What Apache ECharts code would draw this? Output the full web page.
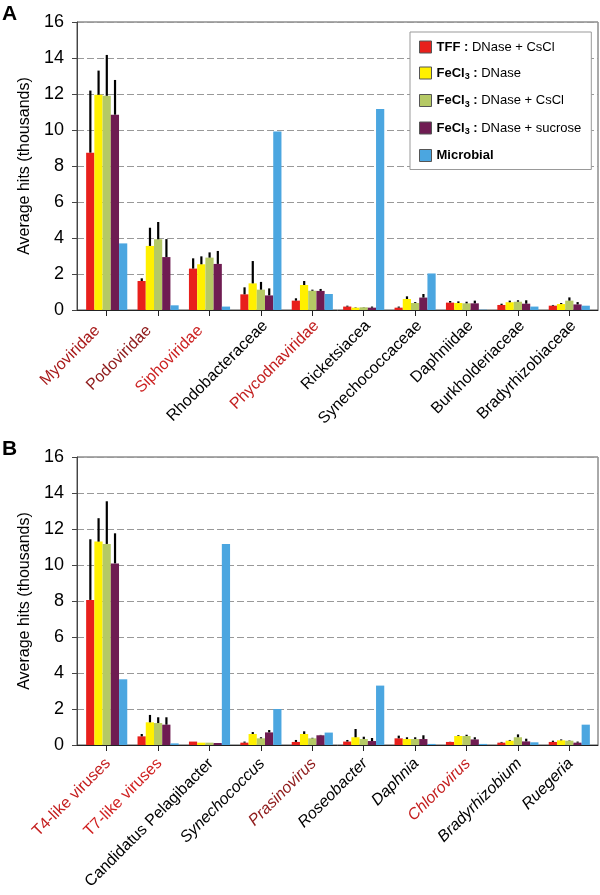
<!DOCTYPE html>
<html>
<head>
<meta charset="utf-8">
<script src="https://cdn.jsdelivr.net/npm/echarts@6/dist/echarts.min.js"></script>
<style>
html,body{margin:0;padding:0;background:#fff;}
#chart{width:600px;height:895px;}
</style>
</head>
<body>
<div id="chart"></div>
<script>
// ---------- data ----------
var seriesNames = ['TFF : DNase + CsCl', 'FeCl3 : DNase', 'FeCl3 : DNase + CsCl', 'FeCl3 : DNase + sucrose', 'Microbial'];
var yTicks = [0, 2, 4, 6, 8, 10, 12, 14, 16];

var catsA = ['Myoviridae','Podoviridae','Siphoviridae','Rhodobacteraceae','Phycodnaviridae','Ricketsiacea','Synechococcaceae','Daphniidae','Burkholderiaceae','Bradyrhizobiaceae'];
var tffA      = [8.74, 1.61, 2.30, 0.87, 0.52, 0.19, 0.13, 0.41, 0.28, 0.24];
var tffErrA   = [12.19, 1.76, 2.87, 1.26, 0.65, 0.24, 0.19, 0.50, 0.35, 0.28];
var dnaseA    = [11.96, 3.56, 2.54, 1.48, 1.39, 0.13, 0.61, 0.39, 0.43, 0.33];
var dnaseErrA = [13.30, 4.57, 2.98, 2.72, 1.61, 0.15, 0.76, 0.48, 0.52, 0.39];
var csclA     = [11.90, 3.93, 2.91, 1.13, 1.07, 0.15, 0.39, 0.37, 0.46, 0.52];
var csclErrA  = [14.17, 4.89, 3.20, 1.56, 1.13, 0.16, 0.44, 0.46, 0.54, 0.70];
var sucA      = [10.85, 2.94, 2.56, 0.81, 1.06, 0.13, 0.69, 0.37, 0.35, 0.31];
var sucErrA   = [12.78, 3.94, 3.28, 1.20, 1.17, 0.19, 0.89, 0.52, 0.54, 0.44];
var microA    = [3.70, 0.26, 0.19, 9.92, 0.89, 11.17, 2.03, 0.02, 0.19, 0.24];

var catsB = ['T4-like viruses','T7-like viruses','Candidatus Pelagibacter','Synechococcus','Prasinovirus','Roseobacter','Daphnia','Chlorovirus','Bradyrhizobium','Ruegeria'];
var tffB      = [8.06, 0.48, 0.19, 0.13, 0.17, 0.19, 0.37, 0.17, 0.13, 0.17];
var tffErrB   = [11.43, 0.61, 0.19, 0.19, 0.28, 0.28, 0.52, 0.18, 0.17, 0.24];
var dnaseB    = [11.30, 1.26, 0.13, 0.61, 0.61, 0.43, 0.33, 0.50, 0.24, 0.26];
var dnaseErrB = [12.60, 1.67, 0.13, 0.72, 0.76, 0.89, 0.43, 0.54, 0.28, 0.31];
var csclB     = [11.17, 1.22, 0.13, 0.37, 0.37, 0.33, 0.33, 0.50, 0.43, 0.24];
var csclErrB  = [13.54, 1.54, 0.13, 0.43, 0.40, 0.46, 0.43, 0.57, 0.59, 0.26];
var sucB      = [10.09, 1.13, 0.11, 0.70, 0.54, 0.22, 0.33, 0.31, 0.20, 0.13];
var sucErrB   = [11.76, 1.54, 0.11, 0.83, 0.56, 0.39, 0.54, 0.43, 0.35, 0.19];
var microB    = [3.65, 0.09, 11.17, 2.00, 0.69, 3.30, 0.06, 0.06, 0.15, 1.13];

// ---------- styles ----------
var FONT = '"Liberation Sans", Arial, Helvetica, sans-serif';
var colors = ['#e8201c', '#fff000', '#b5c965', '#6f1c52', '#4ba6e0'];
var labelColorA = ['#a81a1a','#8e1a1a','#cc2222','#000','#c21e1e','#000','#000','#000','#000','#000'];
var labelItalicA = [false,false,false,false,false,false,false,false,false,false];
var labelPadA = [[0,13,0,0],[0,13,0,0],[0,13,0,0],[12,0,0,0],[12,0,0,0],[12,0,0,0],[12,0,0,0],[12,0,0,0],[12,0,0,0],[12,0,0,0]];
var labelColorB = ['#c41e1e','#d02020','#000','#000','#8e1a1a','#000','#000','#c41e1e','#000','#000'];
var labelItalicB = [false,false,false,true,true,true,true,true,true,true];
var labelPadB = [[12,4,0,0],[12,4,0,0],[12,4,0,0],[12,4,0,0],[12,4,0,0],[12,4,0,0],[12,4,0,0],[12,4,0,0],[12,4,0,0],[12,4,0,0]];

function richFor(colorsArr, italicArr, padArr) {
  var r = {};
  for (var i = 0; i < colorsArr.length; i++) {
    r['c' + i] = { color: colorsArr[i], fontStyle: italicArr[i] ? 'italic' : 'normal', fontSize: 16,
      fontFamily: FONT, padding: padArr[i] };
  }
  return r;
}

var valsA = [tffA, dnaseA, csclA, sucA, microA];
var errsA = [tffErrA, dnaseErrA, csclErrA, sucErrA, null];
var valsB = [tffB, dnaseB, csclB, sucB, microB];
var errsB = [tffErrB, dnaseErrB, csclErrB, sucErrB, null];

var plotTop = [22, 457];
var plotH = 288;

var grids = [], xAxes = [], yAxes = [], series = [];
[0, 1].forEach(function (p) {
  var cats = p === 0 ? catsA : catsB;
  var lc = p === 0 ? labelColorA : labelColorB;
  var li = p === 0 ? labelItalicA : labelItalicB;
  var lp = p === 0 ? labelPadA : labelPadB;
  // frame grid
  grids.push({ left: 77, top: plotTop[p], width: 521, height: plotH, show: true, borderColor: '#555', borderWidth: 1,
    backgroundColor: 'transparent', containLabel: false, outerBoundsMode: 'none' });
  // bar grid
  grids.push({ left: 81, top: plotTop[p], width: 514, height: plotH, containLabel: false, outerBoundsMode: 'none' });
  var gf = p * 2, gb = p * 2 + 1;
  xAxes.push({ gridIndex: gf, type: 'value', min: 0, max: 1, axisLine: { show: true, lineStyle: { color: '#222', width: 1 } },
    axisTick: { show: false }, axisLabel: { show: false }, splitLine: { show: false } });
  yAxes.push({ gridIndex: gf, type: 'value', min: yTicks[0], max: yTicks[yTicks.length - 1], interval: 2,
    name: 'Average hits (thousands)', nameLocation: 'middle', nameGap: 37, nameRotate: 90,
    nameTextStyle: { fontSize: 16, color: '#000', fontFamily: FONT },
    axisLine: { show: true, lineStyle: { color: '#444', width: 1 } },
    axisTick: { show: true, length: 5, lineStyle: { color: '#444' } },
    axisLabel: { fontSize: 18, color: '#000', margin: 13, fontFamily: FONT },
    splitLine: { show: true, lineStyle: { color: '#999', type: [7, 3], width: 1 } } });
  xAxes.push({ gridIndex: gb, type: 'category', data: cats,
    axisLine: { show: false }, axisTick: { show: true, alignWithLabel: true, length: 6, lineStyle: { color: '#222' } },
    axisLabel: { rotate: 45, margin: 9, interval: 0, fontFamily: FONT, fontSize: 16,
      formatter: function (v, i) { return '{c' + i + '|' + v + '}'; }, rich: richFor(lc, li, lp) },
    splitLine: { show: false } });
  yAxes.push({ gridIndex: gb, type: 'value', min: yTicks[0], max: yTicks[yTicks.length - 1], interval: 2, show: false });

  var vals = p === 0 ? valsA : valsB;
  var errs = p === 0 ? errsA : errsB;
  for (var s = 0; s < 5; s++) {
    series.push({ name: seriesNames[s], type: 'bar', xAxisIndex: gb, yAxisIndex: gb,
      data: vals[s], barGap: '0%', barCategoryGap: '20%',
      itemStyle: { color: colors[s] }, emphasis: { disabled: true }, animation: false });
  }
  // error bars
  var errData = [];
  for (var s2 = 0; s2 < 4; s2++) {
    for (var c = 0; c < cats.length; c++) {
      errData.push([c, vals[s2][c], errs[s2][c], s2]);
    }
  }
  series.push({ type: 'custom', xAxisIndex: gb, yAxisIndex: gb, data: errData, animation: false, z: 5,
    encode: { x: 0, y: [1, 2] },
    renderItem: function (params, api) {
      var c = api.value(0), v = api.value(1), e = api.value(2), si = api.value(3);
      if (!(e > v)) return null;
      var base = api.coord([c, v]);
      var top = api.coord([c, e]);
      var cw = api.size([1, 0])[0];
      var bw = cw * 0.8 / 5;
      var x = base[0] + (si - 2) * bw;
      return { type: 'rect', shape: { x: x - 1, y: top[1], width: 2.2, height: base[1] - top[1] },
        style: { fill: '#000' } };
    } });
});

var legendRich = {
  b: { fontWeight: 'bold', fontSize: 13, fontFamily: FONT, color: '#000' },
  n: { fontSize: 13, fontFamily: FONT, color: '#000' },
  s: { fontWeight: 'bold', fontSize: 9, fontFamily: FONT, color: '#000', padding: [8, 0, 0, 0] }
};
var legendText = {
  'TFF : DNase + CsCl': '{b|TFF :}{n| DNase + CsCl}',
  'FeCl3 : DNase': '{b|FeCl}{s|3}{b| :}{n| DNase}',
  'FeCl3 : DNase + CsCl': '{b|FeCl}{s|3}{b| :}{n| DNase + CsCl}',
  'FeCl3 : DNase + sucrose': '{b|FeCl}{s|3}{b| :}{n| DNase + sucrose}',
  'Microbial': '{b|Microbial}'
};

var option = {
  animation: false,
  backgroundColor: '#fff',
  textStyle: { fontFamily: FONT },
  grid: grids,
  xAxis: xAxes,
  yAxis: yAxes,
  legend: {
    data: seriesNames, orient: 'vertical', left: 410, top: 32,
    padding: [8, 10, 7, 9], itemGap: 12, itemWidth: 12, itemHeight: 12,
    borderColor: '#999', borderWidth: 1, backgroundColor: '#fff',
    icon: 'rect', itemStyle: { borderColor: '#555', borderWidth: 1 },
    textStyle: { fontSize: 13, lineHeight: 14, rich: legendRich },
    formatter: function (name) { return legendText[name]; },
    selectedMode: false
  },
  graphic: [
    { type: 'text', left: 2, top: 4, style: { text: 'A', font: 'bold 21px ' + FONT, fill: '#000' } },
    { type: 'text', left: 2, top: 439, style: { text: 'B', font: 'bold 21px ' + FONT, fill: '#000' } }
  ],
  series: series
};

var chart = echarts.init(document.getElementById('chart'), null, { renderer: 'canvas' });
chart.setOption(option);
</script>
</body>
</html>
